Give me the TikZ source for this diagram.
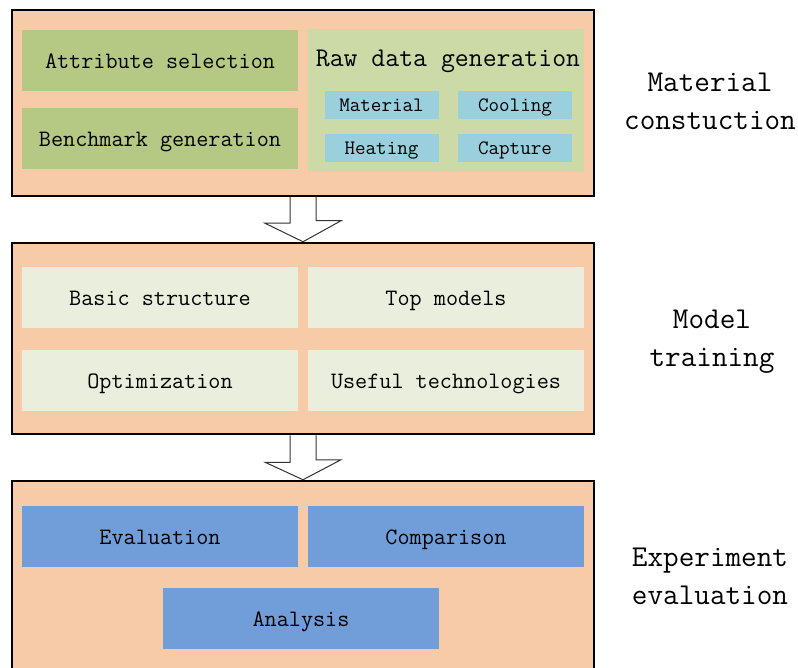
\documentclass[tikz,border=0pt]{standalone}
\usepackage{fontspec}
\usetikzlibrary{calc}
\definecolor{peach}{HTML}{F8CBA8}
\definecolor{olive}{HTML}{B5C985}
\definecolor{paleolive}{HTML}{CCDAA8}
\definecolor{skyb}{HTML}{9ACFDD}
\definecolor{cream}{HTML}{EAEEDC}
\definecolor{bluec}{HTML}{719DD9}
\tikzset{
  stage/.style={draw=black, line width=2.5pt, fill=peach, inner sep=0pt},
  cell/.style={inner sep=0pt, minimum width=276pt, minimum height=61pt, text height=18pt, text depth=2pt, font=\ttfamily\fontsize{23.5}{25}\selectfont},
  small/.style={inner sep=0pt, fill=skyb, minimum width=114pt, minimum height=28pt, text height=15pt, text depth=1pt, font=\ttfamily\fontsize{20.5}{22}\selectfont},
  side/.style={align=center, font=\ttfamily\fontsize{30.3}{38}\selectfont},
  bigarrow/.style={draw=black!80, line width=1pt, fill=white}
}
\begin{document}
\begin{tikzpicture}[x=1pt,y=-1pt]
\useasboundingbox (0,0) rectangle (798,668);
\clip (0,0) rectangle (798,668);
% stage boxes
\node[stage, minimum width=582pt, minimum height=186pt] (b1) at (303,103) {};
\node[stage, minimum width=582pt, minimum height=191pt] (b2) at (303,338.5) {};
\node[stage, minimum width=582pt, minimum height=220pt] (b3) at (303,591) {};
% stage 1
\node[cell, fill=olive] (attr) at (160,60.5) {Attribute selection};
\node[cell, fill=olive] (bench) at (160,139) {Benchmark generation};
\node[cell, fill=paleolive, minimum height=143pt] (raw) at (446,100.5) {};
\node[font=\ttfamily\fontsize{27}{29}\selectfont, inner sep=0pt, text height=21pt, text depth=1pt] (rawt) at (448,57) {Raw data generation};
\node[small] (mat) at (381.5,105) {Material};
\node[small] (cool) at (515,105) {Cooling};
\node[small] (heat) at (381.5,148) {Heating};
\node[small] (capt) at (515,148) {Capture};
% stage 2
\node[cell, fill=cream] (basic) at (160,298) {Basic structure};
\node[cell, fill=cream] (top) at (446,298) {Top models};
\node[cell, fill=cream] (opt) at (160,380.5) {Optimization};
\node[cell, fill=cream] (useful) at (446,380.5) {Useful technologies};
% stage 3
\node[cell, fill=bluec] (eval) at (160,536) {Evaluation};
\node[cell, fill=bluec] (comp) at (446,536) {Comparison};
\node[cell, fill=bluec] (anal) at (301,618) {Analysis};
% side labels
\node[side] (l1) at (710,101) {Material\\constuction};
\node[side] (l2) at (712,342) {Model\\training};
\node[side] (l3) at (710,576) {Experiment\\evaluation};
% arrows
\draw[bigarrow] ($(b1.south)+(-13,0)$) -- ++(0,26) -- ++(-25,0) -- (b2.north) -- ++(38,-21) -- ++(-25,0) -- ($(b1.south)+(13,0)$);
\draw[bigarrow] ($(b2.south)+(-13,0)$) -- ++(0,27) -- ++(-25,0) -- (b3.north) -- ++(38,-20) -- ++(-25,0) -- ($(b2.south)+(13,0)$);
\end{tikzpicture}
\end{document}
